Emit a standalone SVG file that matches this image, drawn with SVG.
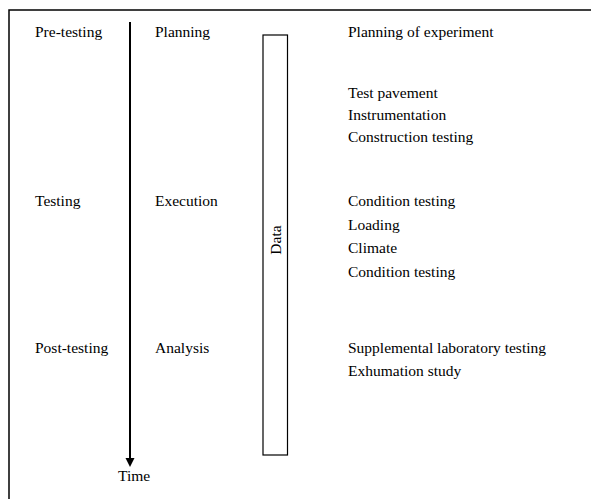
<svg xmlns="http://www.w3.org/2000/svg" width="591" height="499" viewBox="0 0 591 499">
  <style>
    .t { font-family: "Liberation Serif", "Times New Roman", serif; font-size: 15.5px; fill: #000; }
    .frame { fill: none; stroke: #000; stroke-width: 1.5; }
    .box { fill: #fff; stroke: #000; stroke-width: 1.2; }
    .axis { stroke: #000; stroke-width: 2; fill: none; }
  </style>
  <defs>
    <marker id="arrowhead" viewBox="0 0 10 10" refX="5" refY="10" markerWidth="10" markerHeight="10" markerUnits="userSpaceOnUse" orient="auto-start-reverse">
      <path d="M0,0 L10,0 L5,10 Z" fill="#000"/>
    </marker>
  </defs>

  <rect width="591" height="499" fill="#fff"/>

  <!-- outer frame (open at right and bottom) -->
  <path class="frame" d="M9,499 L9,10 L591,10"/>

  <!-- connectors: time axis -->
  <g id="connectors">
    <line class="axis" x1="130" y1="22" x2="130" y2="458"/>
    <path d="M125.5,458 L134.5,458 L130,467 Z" fill="#000"/>
  </g>

  <g id="time-label">
    <text class="t" x="118" y="481">Time</text>
  </g>

  <!-- phases -->
  <g id="phase-pre">
    <text class="t" x="35" y="37">Pre-testing</text>
    <text class="t" x="155" y="37">Planning</text>
  </g>
  <g id="phase-testing">
    <text class="t" x="35" y="206">Testing</text>
    <text class="t" x="155" y="206">Execution</text>
  </g>
  <g id="phase-post">
    <text class="t" x="35" y="353">Post-testing</text>
    <text class="t" x="155" y="353">Analysis</text>
  </g>

  <!-- data bar -->
  <g id="data">
    <rect class="box" x="263" y="35" width="24.5" height="420"/>
    <text class="t" transform="translate(281,240) rotate(-90)" text-anchor="middle">Data</text>
  </g>

  <!-- activities -->
  <g id="activities-pre">
    <text class="t" x="348" y="37">Planning of experiment</text>
    <text class="t" x="348" y="98">Test pavement</text>
    <text class="t" x="348" y="120">Instrumentation</text>
    <text class="t" x="348" y="142">Construction testing</text>
  </g>
  <g id="activities-testing">
    <text class="t" x="348" y="206">Condition testing</text>
    <text class="t" x="348" y="230">Loading</text>
    <text class="t" x="348" y="253">Climate</text>
    <text class="t" x="348" y="277">Condition testing</text>
  </g>
  <g id="activities-post">
    <text class="t" x="348" y="353">Supplemental laboratory testing</text>
    <text class="t" x="348" y="376">Exhumation study</text>
  </g>
</svg>
